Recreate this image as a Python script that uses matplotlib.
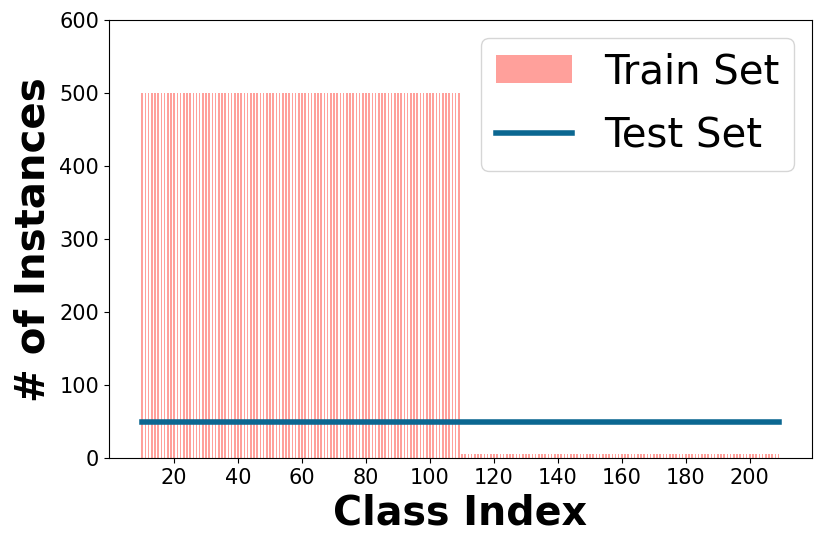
import numpy as np
import matplotlib.pyplot as plt

# --- Data ---
class_index = np.arange(10, 210)
train_counts = [500] * 100 + [5] * 100
test_counts = [50] * 200

train_color = '#ffa09b'
test_color = '#0b6791'

fig = plt.figure(figsize=(8.31, 5.46), dpi=100)
ax = fig.add_axes([0.131, 0.161, 0.846, 0.802])

ax.bar(class_index, train_counts, width=0.5, color=train_color, label='Train Set')
ax.plot(class_index, test_counts, color=test_color, linewidth=4, label='Test Set')

ax.set_xlim(-0.4, 219.4)
ax.set_ylim(0, 600)
ax.set_xticks(np.arange(20, 201, 20))
ax.tick_params(axis='both', labelsize=15)
ax.set_xlabel('Class Index', fontsize=28.5, fontweight='bold')
ax.set_ylabel('# of Instances', fontsize=29, fontweight='bold')

handles, labels = ax.get_legend_handles_labels()
ax.legend(handles[::-1], labels[::-1], fontsize=29, loc='upper right',
          handlelength=1.9, borderaxespad=0.45, labelspacing=0.6, borderpad=0.35)

fig.savefig('out.png', dpi=100)
